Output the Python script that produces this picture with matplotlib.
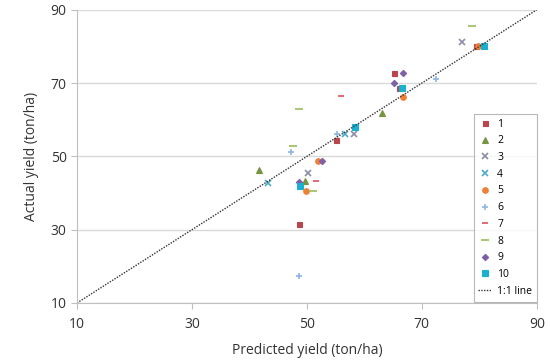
import matplotlib
matplotlib.use("Agg")
import matplotlib.pyplot as plt

plt.rcParams['font.family'] = ['Open Sans', 'DejaVu Sans']

# predicted / actual yield (ton/ha) for each group
pred_1 = [65.2, 66.0, 55.0, 48.6, 79.4]
act_1 = [72.7, 68.7, 54.4, 31.6, 80.2]
pred_2 = [63.0, 41.6, 49.7]
act_2 = [61.8, 46.2, 43.2]
pred_3 = [58.2, 50.2, 76.9]
act_3 = [56.0, 45.5, 81.2]
pred_4 = [56.7, 43.3]
act_4 = [56.0, 42.7]
pred_5 = [66.7, 52.0, 49.8, 79.8]
act_5 = [66.1, 48.7, 40.6, 80.2]
pred_6 = [47.3, 48.7, 72.4, 55.3]
act_6 = [51.3, 17.4, 71.2, 56.0]
pred_7 = [55.9, 51.5]
act_7 = [66.4, 43.2]
pred_8 = [48.6, 47.5, 51.1, 78.8]
act_8 = [63.0, 52.9, 40.6, 85.7]
pred_9 = [66.8, 65.1, 52.7, 48.6]
act_9 = [72.7, 70.0, 48.7, 43.0]
pred_10 = [66.6, 58.3, 48.8, 80.8]
act_10 = [68.7, 57.9, 42.0, 80.2]

groups = [
    ("1", pred_1, act_1, "s", "#B8464A", 3.6),
    ("2", pred_2, act_2, "^", "#779441", 4),
    ("3", pred_3, act_3, "x", "#8C8CA8", 4.5),
    ("4", pred_4, act_4, "x", "#4BACC6", 4.5),
    ("5", pred_5, act_5, "o", "#F07F35", 4),
    ("6", pred_6, act_6, "+", "#8EB4E3", 5),
    ("7", pred_7, act_7, "_", "#E0505A", 4),
    ("8", pred_8, act_8, "_", "#9BBB59", 5.5),
    ("9", pred_9, act_9, "D", "#7E5FA8", 3.2),
    ("10", pred_10, act_10, "s", "#1BB0CF", 4),
]

fig = plt.figure(figsize=(5.5, 3.62), dpi=100)
ax = fig.add_axes([0.14, 0.163, 0.836, 0.81])

for name, px, ay, mk, col, ms in groups:
    ax.plot(px, ay, linestyle="none", marker=mk, color=col, markersize=ms,
            markeredgewidth=1.2 if mk in "x+_" else 0.8, label=name)

ax.plot([10, 90], [10, 90], linestyle=(0, (1, 1)), color="#333333", linewidth=1.0, label="1:1 line")

ax.set_xlim(10, 90)
ax.set_ylim(10, 90)
ax.set_xticks([10, 30, 50, 70, 90])
ax.set_yticks([10, 30, 50, 70, 90])
ax.grid(axis="y", color="#D9D9D9", linewidth=1.0)
ax.set_axisbelow(True)
for s in ["top", "right"]:
    ax.spines[s].set_visible(False)
for s in ["left", "bottom"]:
    ax.spines[s].set_color("#BFBFBF")
ax.tick_params(axis="both", colors="#BFBFBF", length=4, labelcolor="#333333", labelsize=10)
ax.tick_params(axis="x", pad=6)

ax.set_xlabel("Predicted yield (ton/ha)", fontsize=10, color="#333333", labelpad=8)
ax.set_ylabel("Actual yield (ton/ha)", fontsize=10, color="#333333", labelpad=8)

leg = ax.legend(loc="lower right", bbox_to_anchor=(1.0, 0.005), borderaxespad=0,
                fontsize=7.5, frameon=True, fancybox=False, handlelength=1.2,
                labelspacing=0.55, borderpad=0.45, handletextpad=0.6)
leg.get_frame().set_edgecolor("#A6A6A6")
leg.get_frame().set_linewidth(0.8)

plt.savefig("out.png", dpi=100)
